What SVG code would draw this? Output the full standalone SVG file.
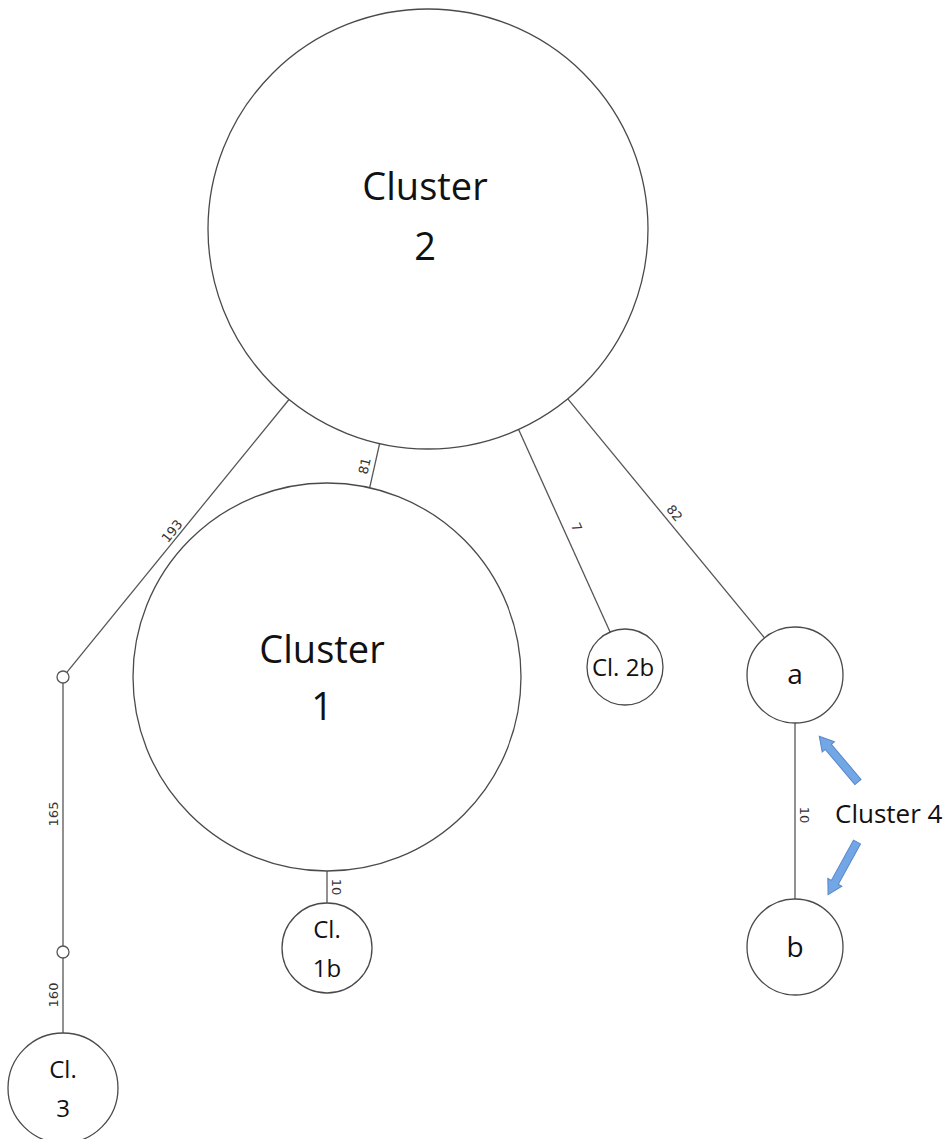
<svg xmlns="http://www.w3.org/2000/svg" width="952" height="1139" viewBox="0 0 952 1139">
  <style>
    .node { fill: #ffffff; stroke: #4a4a4a; stroke-width: 1.3; }
    .dot { fill: #ffffff; stroke: #555555; stroke-width: 1.3; }
    .edge { stroke: #555555; stroke-width: 1.3; fill: none; }
    .elabel { font-family: "DejaVu Sans", sans-serif; font-size: 13px; fill: #333333; text-anchor: middle; }
    .big { font-family: "Open Sans", sans-serif; font-size: 38px; fill: #111111; text-anchor: middle; }
    .mid { font-family: "Open Sans", sans-serif; font-size: 24px; fill: #111111; text-anchor: middle; }
    .letter { font-family: "Open Sans", sans-serif; font-size: 28px; fill: #111111; text-anchor: middle; }
    .note { font-family: "Open Sans", sans-serif; font-size: 26px; fill: #111111; }
    .barrow { fill: #72a6e4; stroke: #5688cc; stroke-width: 1; }
  </style>
  <defs>
    <!-- block arrow pointing along +x, tail at origin -->
    <polygon id="blockArrow" points="0,-4 46,-4 46,-8 60,0 46,8 46,4 0,4"/>
  </defs>
  <rect width="952" height="1139" fill="#ffffff"/>

  <g id="connectors">
    <line class="edge" x1="289" y1="399.5" x2="66.8" y2="672.3"/>
    <line class="edge" x1="379.6" y1="443.6" x2="369.7" y2="487.7"/>
    <line class="edge" x1="518.6" y1="429.5" x2="610.3" y2="632.4"/>
    <line class="edge" x1="567.8" y1="398.9" x2="764.5" y2="637.9"/>
    <line class="edge" x1="327" y1="871" x2="327" y2="903"/>
    <line class="edge" x1="795" y1="723" x2="795" y2="899"/>
    <line class="edge" x1="63" y1="683" x2="63" y2="946"/>
    <line class="edge" x1="63" y1="958" x2="63" y2="1033"/>

    <text class="elabel" transform="translate(175.5,534) rotate(-50.8)">193</text>
    <text class="elabel" transform="translate(369,467) rotate(-77.3)">81</text>
    <text class="elabel" transform="translate(572.5,529) rotate(65.7)">7</text>
    <text class="elabel" transform="translate(671,516) rotate(50.5)">82</text>
    <text class="elabel" transform="translate(57.5,814) rotate(-90)">165</text>
    <text class="elabel" transform="translate(57.5,995) rotate(-90)">160</text>
    <text class="elabel" transform="translate(332,887) rotate(90)">10</text>
    <text class="elabel" transform="translate(799.5,815) rotate(90)">10</text>
  </g>

  <g id="cluster2">
    <circle class="node" cx="428" cy="229" r="220"/>
    <text class="big" x="425" y="200">Cluster</text>
    <text class="big" x="425" y="260">2</text>
  </g>

  <g id="cluster1">
    <circle class="node" cx="327" cy="677" r="194"/>
    <text class="big" x="322" y="663">Cluster</text>
    <text class="big" x="322" y="720">1</text>
  </g>

  <g id="cl2b">
    <circle class="node" cx="625" cy="667" r="38"/>
    <text class="mid" x="623" y="676">Cl. 2b</text>
  </g>

  <g id="node-a">
    <circle class="node" cx="795" cy="675" r="48"/>
    <text class="letter" x="795" y="684">a</text>
  </g>

  <g id="node-b">
    <circle class="node" cx="795" cy="947" r="48"/>
    <text class="letter" x="795" y="957">b</text>
  </g>

  <g id="cl1b">
    <circle class="node" cx="327" cy="948" r="45"/>
    <text class="mid" x="327" y="938">Cl.</text>
    <text class="mid" x="327" y="977">1b</text>
  </g>

  <g id="junction1">
    <circle class="dot" cx="63" cy="677" r="6"/>
  </g>
  <g id="junction2">
    <circle class="dot" cx="63" cy="952" r="6"/>
  </g>

  <g id="cl3">
    <circle class="node" cx="63" cy="1088" r="55"/>
    <text class="mid" x="63" y="1078">Cl.</text>
    <text class="mid" x="63" y="1117">3</text>
  </g>

  <g id="cluster4-note">
    <use href="#blockArrow" class="barrow" transform="translate(858,782) rotate(-130.2)"/>
    <use href="#blockArrow" class="barrow" transform="translate(857,842) rotate(118.8)"/>
    <text class="note" x="835" y="823">Cluster 4</text>
  </g>
</svg>
